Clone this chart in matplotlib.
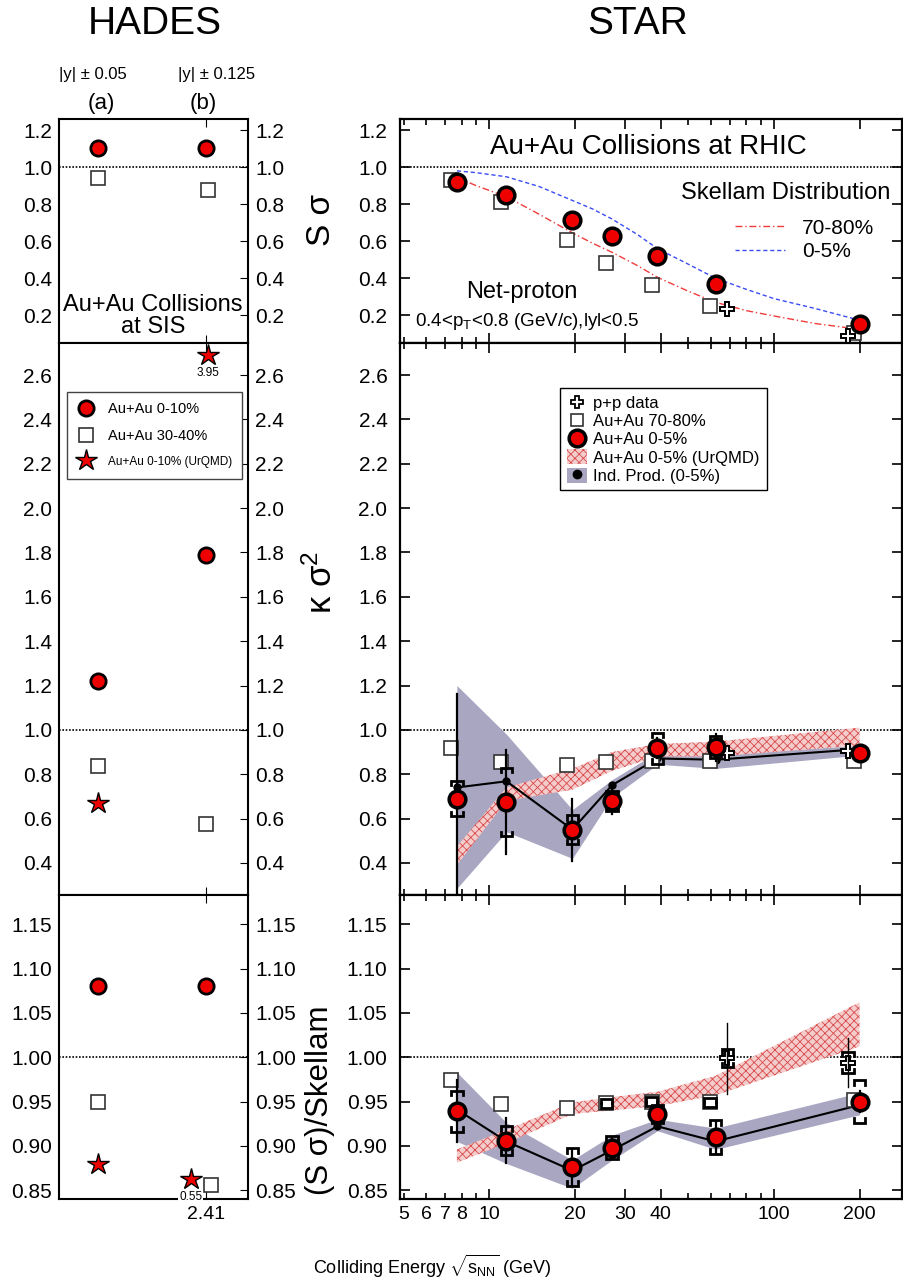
import matplotlib.pyplot as plt
import numpy as np
from matplotlib.lines import Line2D
from matplotlib.patches import Patch
from matplotlib.ticker import FixedLocator, FixedFormatter, NullFormatter, FormatStrFormatter

plt.rcParams['font.family'] = ['Liberation Sans', 'DejaVu Sans']
plt.rcParams['mathtext.fontset'] = 'custom'
plt.rcParams['mathtext.rm'] = 'Liberation Sans'
plt.rcParams['mathtext.it'] = 'Liberation Sans:italic'
plt.rcParams['mathtext.bf'] = 'Liberation Sans:bold'
plt.rcParams['hatch.linewidth'] = 0.6

# ---------------- STAR data ----------------
energy = [7.7, 11.5, 19.6, 27, 39, 62.4, 200]
pp_energy = [62.4, 200]

# S sigma
ss_c = [0.92, 0.85, 0.717, 0.63, 0.52, 0.367, 0.155]
ss_sq = [0.93, 0.81, 0.605, 0.483, 0.362, 0.25, 0.106]
ss_pp = [0.236, 0.09]
skellam_e = [7.7, 9, 11.5, 15, 19.6, 23, 27, 33, 39, 50, 62.4, 80, 100, 140, 200]
skellam_7080 = [0.944, 0.90, 0.84, 0.745, 0.645, 0.59, 0.54, 0.47, 0.405, 0.33, 0.27,
                0.225, 0.196, 0.155, 0.124]
skellam_05 = [0.98, 0.97, 0.948, 0.895, 0.82, 0.775, 0.72, 0.638, 0.56, 0.476, 0.40,
              0.34, 0.29, 0.236, 0.173]

# kappa sigma^2
kap_c = [0.69, 0.674, 0.55, 0.679, 0.917, 0.921, 0.897]
kap_c_stat = [0.47, 0.235, 0.14, 0.06, 0.045, 0.06, 0.02]
kap_c_sys = [0.08, 0.155, 0.065, 0.045, 0.07, 0.05, 0.02]
kap_sq = [0.918, 0.853, 0.84, 0.856, 0.86, 0.858, 0.86]
kap_pp = [0.895, 0.905]
kap_ind = [0.74, 0.768, 0.55, 0.75, 0.871, 0.865, 0.913]
kap_ind_lo = [0.285, 0.54, 0.42, 0.695, 0.845, 0.826, 0.886]
kap_ind_hi = [1.2, 0.98, 0.64, 0.775, 0.90, 0.89, 0.93]
kap_urq_lo = [0.39, 0.68, 0.73, 0.815, 0.88, 0.88, 0.93]
kap_urq_hi = [0.474, 0.74, 0.825, 0.90, 0.936, 0.947, 1.01]

# (S sigma)/Skellam
rat_c = [0.939, 0.906, 0.876, 0.898, 0.936, 0.910, 0.950]
rat_c_stat = [0.035, 0.025, 0.02, 0.012, 0.01, 0.018, 0.012]
rat_c_sys = [0.023, 0.016, 0.021, 0.013, 0.01, 0.019, 0.024]
rat_sq = [0.974, 0.947, 0.943, 0.948, 0.95, 0.949, 0.952]
rat_sq_sys = [0, 0, 0, 0.005, 0.005, 0.005, 0]
rat_pp = [0.999, 0.994]
rat_pp_stat = [0.04, 0.028]
rat_pp_sys = [0.01, 0.012]
rat_ind = [0.941, 0.905, 0.872, 0.895, 0.922, 0.905, 0.946]
rat_ind_lo = [0.905, 0.88, 0.852, 0.884, 0.917, 0.896, 0.935]
rat_ind_hi = [0.983, 0.926, 0.884, 0.912, 0.93, 0.92, 0.96]
rat_urq_lo = [0.881, 0.903, 0.936, 0.94, 0.945, 0.957, 1.012]
rat_urq_hi = [0.896, 0.918, 0.949, 0.955, 0.961, 0.979, 1.062]

# ---------------- HADES data (a: |y|<0.05, b: |y|<0.125) ----------------
had_x = [0, 1]
had_s_c = [1.104, 1.104]
had_s_sq = [0.94, 0.874]
had_k_c = [1.22, 1.79]
had_k_sq = [0.838, 0.577]
had_k_star = [0.67, 3.95]
had_r_c = [1.08, 1.08]
had_r_sq = [0.95, 0.856]
had_r_star = [0.879, 0.55]

RED = '#ee0000'
URQ_FACE = '#f4cccc'
URQ_EDGE = '#d84a4a'
IND = '#a9a6c2'

W, H = 904, 1286
fig = plt.figure(figsize=(W / 100, H / 100), dpi=100)


def box(x0, y0, x1, y1):
    return [x0 / W, 1 - y1 / H, (x1 - x0) / W, (y1 - y0) / H]


rows = [(119, 343), (343, 895), (895, 1199)]
ylims = [(0.05, 1.26), (0.255, 2.745), (0.84, 1.183)]
yticks = [[0.2, 0.4, 0.6, 0.8, 1.0, 1.2],
          [0.4, 0.6, 0.8, 1.0, 1.2, 1.4, 1.6, 1.8, 2.0, 2.2, 2.4, 2.6],
          [0.85, 0.90, 0.95, 1.00, 1.05, 1.10, 1.15]]
yfmt = ['%.1f', '%.1f', '%.2f']

axR = [fig.add_axes(box(400, r[0], 902, r[1])) for r in rows]
axL = [fig.add_axes(box(59, r[0], 248, r[1])) for r in rows]

for i, ax in enumerate(axR):
    ax.set_xscale('log')
    ax.set_xlim(4.86, 282)
    ax.set_ylim(*ylims[i])
    ax.set_yticks(yticks[i])
    ax.yaxis.set_major_formatter(FormatStrFormatter(yfmt[i]))
    ax.xaxis.set_major_locator(FixedLocator([10, 20, 30, 40, 100, 200]))
    ax.xaxis.set_minor_locator(FixedLocator([5, 6, 7, 8, 9, 50, 60, 70, 80, 90]))
    if i == 2:
        ax.xaxis.set_major_formatter(FixedFormatter(['10', '20', '30', '40', '100', '200']))
        ax.xaxis.set_minor_formatter(FixedFormatter(['5', '6', '7', '8', '', '', '', '', '', '']))
    else:
        ax.xaxis.set_major_formatter(NullFormatter())
        ax.xaxis.set_minor_formatter(NullFormatter())
    ax.tick_params(which='both', direction='in', top=True, right=True, width=1.2)
    ax.tick_params(which='major', length=7)
    ax.tick_params(which='minor', length=4)
    ax.tick_params(axis='y', which='both', labelsize=15, pad=9)
    ax.tick_params(axis='x', which='both', labelsize=14, pad=5)
    for s in ax.spines.values():
        s.set_linewidth(1.6)
    ax.axhline(1.0, color='k', ls=(0, (1, 1)), lw=1.2, zorder=1)

for i, ax in enumerate(axL):
    ax.set_xlim(-0.36, 1.39)
    ax.set_ylim(*ylims[i])
    ax.set_yticks(yticks[i])
    ax.yaxis.set_major_formatter(FormatStrFormatter(yfmt[i]))
    ax.set_xticks([1])
    ax.set_xticklabels(['2.41'] if i == 2 else [''])
    ax.tick_params(axis='y', direction='in', left=False, right=True,
                   labelleft=True, labelright=True, labelsize=15, pad=5, length=6)
    ax.tick_params(axis='x', direction='in', top=True, bottom=True, length=6,
                   labelsize=14, pad=5)
    for s in ax.spines.values():
        s.set_linewidth(1.5)
    ax.axhline(1.0, color='k', ls=(0, (1, 1)), lw=1.2, zorder=1)


def stat_bars(ax, x, y, err, lw=1.6):
    for xi, yi, e in zip(x, y, err):
        if e > 0:
            ax.plot([xi, xi], [yi - e, yi + e], color='k', lw=lw, zorder=4)


def sys_brackets(ax, x, y, err, leg, half=0.02):
    for xi, yi, e in zip(x, y, err):
        if e <= 0:
            continue
        xl, xr = xi * 10 ** -half, xi * 10 ** half
        for s in (1, -1):
            yc = yi + s * e
            ax.plot([xl, xl, xr, xr], [yc - s * leg, yc, yc, yc - s * leg],
                    color='k', lw=2, zorder=4, solid_joinstyle='miter')


e = np.array(energy)
e_sq = e * 0.955
e_pp = np.array(pp_energy) * np.array([1.1, 0.91])

circ = dict(ls='none', marker='o', ms=12, mfc=RED, mec='k', mew=2.5, zorder=6)
sq = dict(ls='none', marker='s', ms=9.5, mfc='white', mec='#333333', mew=1.2, zorder=3)
cross = dict(ls='none', marker='P', ms=10, mfc='white', mec='k', mew=1.4, zorder=3)

# ---- top right: S sigma
ax = axR[0]
ax.plot(skellam_e, skellam_7080, color='#f03c3c', ls=(0, (5, 2, 1, 2)), lw=1)
ax.plot(skellam_e, skellam_05, color='#3a4cf5', ls=(0, (3, 2)), lw=1)
ax.plot(e_sq, ss_sq, **sq)
ax.plot(e_pp, ss_pp, **cross)
ax.plot(e, ss_c, **circ)
ax.text(0.494, 0.875, 'Au+Au Collisions at RHIC', transform=ax.transAxes,
        ha='center', va='center', fontsize=20)
ax.text(0.769, 0.67, 'Skellam Distribution', transform=ax.transAxes,
        ha='center', va='center', fontsize=17)
ax.legend([Line2D([], [], color='#f03c3c', ls=(0, (5, 2, 1, 2)), lw=1),
           Line2D([], [], color='#3a4cf5', ls=(0, (3, 2)), lw=1)],
          ['70-80%', '0-5%'], loc='upper left', bbox_to_anchor=(0.668, 0.555),
          frameon=False, fontsize=15, handlelength=2.4, handletextpad=0.8,
          labelspacing=0.2, borderpad=0, borderaxespad=0)
ax.text(0.243, 0.227, 'Net-proton', transform=ax.transAxes,
        ha='center', va='center', fontsize=17)
ax.text(0.03, 0.098, r'0.4<p$_{\mathrm{T}}$<0.8 (GeV/c),lyl<0.5', transform=ax.transAxes,
        ha='left', va='center', fontsize=13.5)

# ---- middle right: kappa sigma^2
ax = axR[1]
ax.fill_between(e, kap_urq_lo, kap_urq_hi, facecolor=URQ_FACE, edgecolor=URQ_EDGE,
                hatch='xxxx', lw=0, zorder=2)
ax.fill_between(e, kap_ind_lo, kap_ind_hi, color=IND, lw=0, zorder=1.5)
ax.plot(e, kap_ind, '-o', color='k', ms=5, lw=1.5, zorder=3)
ax.plot(e_sq, kap_sq, **sq)
ax.plot(e_pp, kap_pp, **cross)
stat_bars(ax, e, kap_c, kap_c_stat)
sys_brackets(ax, e, kap_c, kap_c_sys, leg=0.02)
ax.plot(e, kap_c, **circ)

handles = [Line2D([], [], ls='none', marker='P', ms=9, mfc='white', mec='k', mew=1.3),
           Line2D([], [], ls='none', marker='s', ms=9, mfc='white', mec='#333333', mew=1.2),
           Line2D([], [], ls='none', marker='o', ms=12, mfc=RED, mec='k', mew=2.5),
           Patch(facecolor=URQ_FACE, edgecolor=URQ_EDGE, hatch='xxxx', lw=0),
           (Patch(facecolor=IND, lw=0),
            Line2D([], [], ls='none', marker='o', ms=6, color='k'))]
labels = ['p+p data', 'Au+Au 70-80%', 'Au+Au 0-5%', 'Au+Au 0-5% (UrQMD)', 'Ind. Prod. (0-5%)']
leg = ax.legend(handles, labels, loc='upper left', bbox_to_anchor=(0.319, 0.918),
                fontsize=12, frameon=True, fancybox=False, edgecolor='k', framealpha=1,
                handlelength=1.2, handleheight=1.0, handletextpad=0.4,
                labelspacing=0.12, borderpad=0.4, borderaxespad=0)
leg.get_frame().set_linewidth(1)

# ---- bottom right: ratio to Skellam
ax = axR[2]
ax.fill_between(e, rat_urq_lo, rat_urq_hi, facecolor=URQ_FACE, edgecolor=URQ_EDGE,
                hatch='xxxx', lw=0, zorder=2)
ax.fill_between(e, rat_ind_lo, rat_ind_hi, color=IND, lw=0, zorder=1.5)
ax.plot(e, rat_ind, '-o', color='k', ms=5, lw=1.5, zorder=3)
ax.plot(e_sq, rat_sq, **sq)
sys_brackets(ax, e_sq, rat_sq, rat_sq_sys, leg=0.005)
stat_bars(ax, e_pp, rat_pp, rat_pp_stat, lw=1)
sys_brackets(ax, e_pp, rat_pp, rat_pp_sys, leg=0.005)
ax.plot(e_pp, rat_pp, **cross)
stat_bars(ax, e, rat_c, rat_c_stat)
sys_brackets(ax, e, rat_c, rat_c_sys, leg=0.005)
ax.plot(e, rat_c, **circ)

# ---- HADES panels
hc = dict(ls='none', marker='o', ms=11, mfc=RED, mec='k', mew=2, zorder=5)
hs = dict(ls='none', marker='s', ms=9.5, mfc='white', mec='#333333', mew=1.2, zorder=4)
hst = dict(ls='none', marker='*', ms=16, mfc=RED, mec='k', mew=1, zorder=5)

ax = axL[0]
ax.plot(had_x, had_s_c, **hc)
ax.plot(np.array(had_x) + [0, 0.02], had_s_sq, **hs)
ax.text(0.497, 0.12, 'Au+Au Collisions\nat SIS', transform=ax.transAxes,
        ha='center', va='center', fontsize=17, linespacing=1.0)

ax = axL[1]
top = ylims[1][1]
ax.plot(had_x, had_k_c, **hc)
ax.plot(had_x, had_k_sq, **hs)
kstar = [min(v, top - 0.055) for v in had_k_star]
ax.plot(np.array(had_x) + [0, 0.02], kstar, **hst)
ax.annotate('%.2f' % had_k_star[1], (had_x[1] + 0.02, kstar[1]), xytext=(0, -13),
            textcoords='offset points', ha='center', va='center', fontsize=8.5)
leg = ax.legend([Line2D([], [], **{**hc, 'zorder': 1}),
                 Line2D([], [], **{**hs, 'zorder': 1}),
                 Line2D([], [], **{**hst, 'zorder': 1})],
                ['Au+Au 0-10%', 'Au+Au 30-40%', 'Au+Au 0-10% (UrQMD)'],
                loc='upper left', bbox_to_anchor=(0.042, 0.911), fontsize=10.5,
                frameon=True, fancybox=False, edgecolor='#444444', framealpha=1,
                handlelength=1.2, handletextpad=0.9, labelspacing=0.85,
                borderpad=0.7, borderaxespad=0)
leg.get_texts()[2].set_fontsize(8.5)
leg.get_frame().set_linewidth(1)

ax = axL[2]
bot = ylims[2][0]
ax.plot(had_x, had_r_c, **hc)
ax.plot(np.array(had_x) + [0, 0.05], had_r_sq, **hs)
rstar = [max(v, bot + 0.023) for v in had_r_star]
ax.plot(np.array(had_x) + [0, -0.14], rstar, **hst)
ax.annotate('%.2f' % had_r_star[1], (had_x[1] - 0.14, rstar[1]), xytext=(0, -13),
            textcoords='offset points', ha='center', va='center', fontsize=8.5,
            bbox=dict(facecolor='white', edgecolor='none', pad=0.5), zorder=3)

# ---- labels and titles
fig.text(155 / W, 1 - 24 / H, 'HADES', ha='center', va='center', fontsize=28)
fig.text(638 / W, 1 - 24 / H, 'STAR', ha='center', va='center', fontsize=28)
fig.text(93 / W, 1 - 75 / H, '|y| ± 0.05', ha='center', va='center', fontsize=12)
fig.text(217 / W, 1 - 75 / H, '|y| ± 0.125', ha='center', va='center', fontsize=12)
fig.text(101 / W, 1 - 103 / H, '(a)', ha='center', va='center', fontsize=16)
fig.text(203 / W, 1 - 103 / H, '(b)', ha='center', va='center', fontsize=16)

fig.text(322 / W, 1 - 220 / H, 'S σ', rotation=90, ha='center', va='center', fontsize=24)
fig.text(322 / W, 1 - 582 / H, r'κ σ$^{2}$', rotation=90, ha='center', va='center', fontsize=25)
fig.text(320 / W, 1 - 1100 / H, '(S σ)/Skellam', rotation=90, ha='center', va='center',
         fontsize=22.5)
fig.text(432 / W, 1 - 1266 / H, r'Colliding Energy $\sqrt{\mathrm{s}_{\mathrm{NN}}}$ (GeV)',
         ha='center', va='center', fontsize=13)

fig.savefig('out.png', dpi=100)
